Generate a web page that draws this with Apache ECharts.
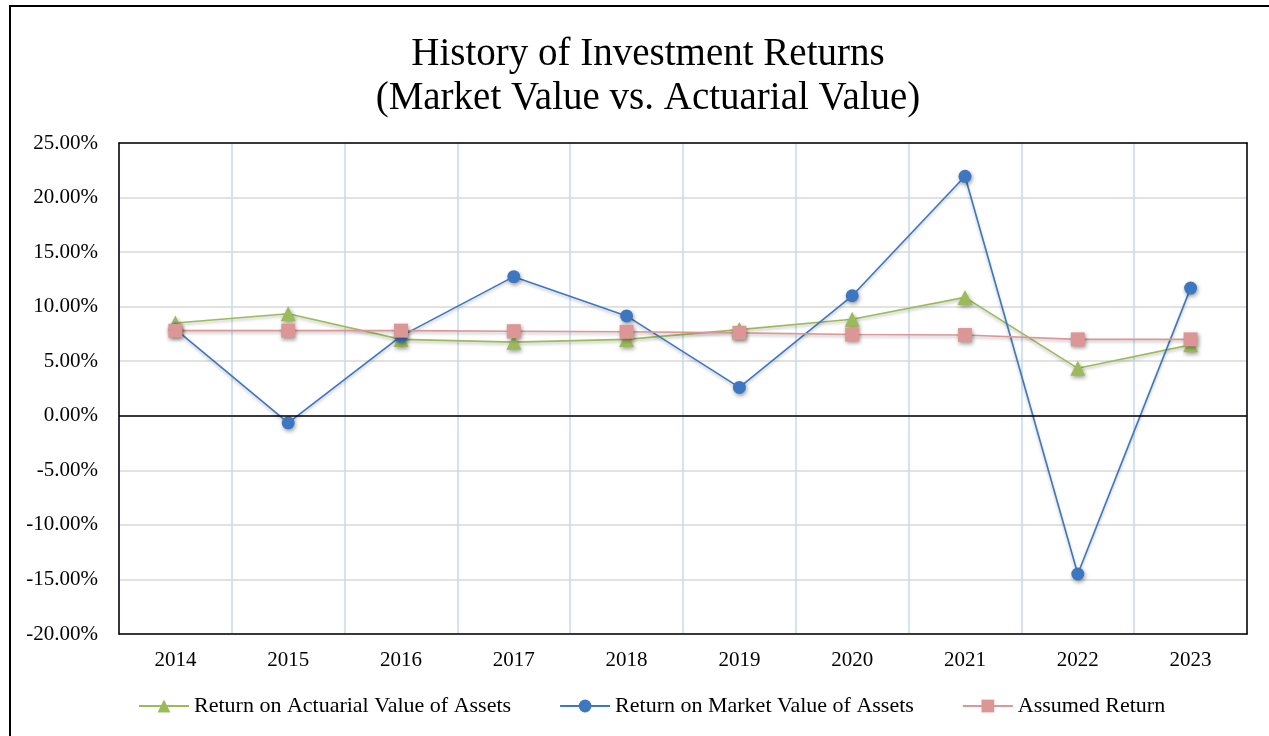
<!DOCTYPE html>
<html lang="en">
<head>
    <meta charset="UTF-8">
    <title>History of Investment Returns</title>
    <script src="https://cdn.jsdelivr.net/npm/echarts@6/dist/echarts.min.js"></script>
    <style>
        * { margin: 0; padding: 0 }
        html, body { width: 100%; height: 100%; background: #fff; overflow: hidden; }
        #frame {
            position: absolute; left: 9px; top: 5px;
            width: 1320px; height: 800px;
            border: 2px solid #000;
        }
        #main { position: absolute; left: 0; top: 0; width: 1269px; height: 736px; }
    </style>
</head>
<body>
<div id="frame"></div>
<div id="main"></div>
<script>
    // years on the x axis
    var years = ['2014', '2015', '2016', '2017', '2018', '2019', '2020', '2021', '2022', '2023'];

    // returns in percent
    var actuarialReturn = [8.5, 9.35, 7.0, 6.75, 7.0, 7.9, 8.85, 10.85, 4.35, 6.5];
    var marketReturn = [7.95, -0.65, 7.3, 12.75, 9.15, 2.6, 11.0, 21.95, -14.5, 11.7];
    var assumedReturn = [7.8, 7.8, 7.8, 7.75, 7.7, 7.6, 7.45, 7.4, 7.0, 7.0];

    var serif = 'Liberation Serif, Times New Roman, serif';
    var markShadow = {shadowBlur: 4, shadowColor: 'rgba(0,0,0,0.4)', shadowOffsetX: 1, shadowOffsetY: 2};
    var lineShadow = {width: 1.6, shadowBlur: 3, shadowColor: 'rgba(0,0,0,0.25)', shadowOffsetY: 2};
    var blackLine = {show: true, onZero: false, lineStyle: {color: '#000', width: 1.5}};

    var myChart = echarts.init(document.getElementById('main'));

    var option = {
        animation: false,
        title: {
            text: 'History of Investment Returns\n(Market Value vs. Actuarial Value)',
            left: 643,
            textAlign: 'center',
            top: 28,
            textStyle: {fontFamily: serif, fontSize: 39, fontWeight: 'normal', color: '#000', lineHeight: 44}
        },
        legend: {
            bottom: 14,
            left: 133,
            itemWidth: 50,
            itemHeight: 16,
            itemGap: 48,
            textStyle: {fontFamily: serif, fontSize: 22, color: '#000'},
            data: ['Return on Actuarial Value of Assets', 'Return on Market Value of Assets', 'Assumed Return']
        },
        grid: {
            left: 119,
            right: 22,
            top: 143,
            bottom: 102
        },
        xAxis: [
            {
                type: 'category',
                data: years,
                boundaryGap: true,
                axisLine: blackLine,
                axisTick: {show: false},
                axisLabel: {fontFamily: serif, fontSize: 21, color: '#000', margin: 16},
                splitLine: {show: true, interval: 0, lineStyle: {color: '#c6d9f0', width: 1.5}}
            },
            {
                type: 'category',
                data: years,
                position: 'top',
                axisLine: blackLine,
                axisTick: {show: false},
                axisLabel: {show: false}
            }
        ],
        yAxis: [
            {
                type: 'value',
                min: -20,
                max: 25,
                interval: 5,
                axisLine: blackLine,
                axisTick: {show: false},
                axisLabel: {
                    fontFamily: serif, fontSize: 21, color: '#000', margin: 21,
                    formatter: function (v) { return v.toFixed(2) + '%'; }
                },
                splitLine: {lineStyle: {color: '#d9d9d9', width: 1.5}}
            },
            {
                type: 'value',
                min: -20,
                max: 25,
                interval: 5,
                position: 'right',
                axisLine: blackLine,
                axisTick: {show: false},
                axisLabel: {show: false},
                splitLine: {show: false}
            }
        ],
        series: [
            {
                name: 'Return on Actuarial Value of Assets',
                type: 'line',
                data: actuarialReturn,
                symbol: 'triangle',
                symbolSize: 15,
                color: '#9bbb59',
                lineStyle: lineShadow,
                itemStyle: markShadow,
                markLine: {
                    silent: true,
                    symbol: 'none',
                    label: {show: false},
                    lineStyle: {color: '#000', width: 1.5, type: 'solid'},
                    data: [{yAxis: 0}]
                }
            },
            {
                name: 'Return on Market Value of Assets',
                type: 'line',
                data: marketReturn,
                symbol: 'circle',
                symbolSize: 13,
                color: '#3d77c2',
                lineStyle: lineShadow,
                itemStyle: markShadow
            },
            {
                name: 'Assumed Return',
                type: 'line',
                data: assumedReturn,
                symbol: 'rect',
                symbolSize: 14,
                color: '#dc9696',
                lineStyle: lineShadow,
                itemStyle: markShadow
            }
        ]
    };

    myChart.setOption(option);
</script>
</body>
</html>
